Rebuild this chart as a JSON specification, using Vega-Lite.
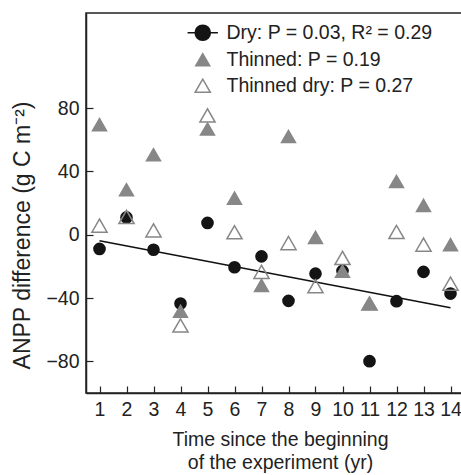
{
  "$schema": "https://vega.github.io/schema/vega-lite/v6.json",
  "autosize": {"type": "none"},
  "padding": {"left": 86, "top": 13, "right": 0, "bottom": 82},
  "width": 378,
  "height": 380,
  "background": "white",
  "config": {
    "font": "Liberation Sans",
    "view": {"stroke": "#222", "strokeWidth": 1.5},
    "axis": {
      "domainColor": "#222", "domainWidth": 1.5, "tickColor": "#222", "tickWidth": 1.2,
      "labelColor": "#222", "titleColor": "#222", "grid": false,
      "labelFontSize": 19.5, "titleFontSize": 19.5, "titleFontWeight": "normal"
    }
  },
  "data": {"values": [
    {"t": 1, "series": "Dry", "v": -9.0},
    {"t": 2, "series": "Dry", "v": 10.9},
    {"t": 3, "series": "Dry", "v": -9.5},
    {"t": 4, "series": "Dry", "v": -43.5},
    {"t": 5, "series": "Dry", "v": 7.4},
    {"t": 6, "series": "Dry", "v": -20.6},
    {"t": 7, "series": "Dry", "v": -13.7},
    {"t": 8, "series": "Dry", "v": -41.8},
    {"t": 9, "series": "Dry", "v": -24.6},
    {"t": 10, "series": "Dry", "v": -22.9},
    {"t": 11, "series": "Dry", "v": -79.9},
    {"t": 12, "series": "Dry", "v": -42.0},
    {"t": 13, "series": "Dry", "v": -23.5},
    {"t": 14, "series": "Dry", "v": -37.2},
    {"t": 1, "series": "Thinned", "v": 69.5},
    {"t": 2, "series": "Thinned", "v": 28.4},
    {"t": 3, "series": "Thinned", "v": 50.5},
    {"t": 4, "series": "Thinned", "v": -48.4},
    {"t": 5, "series": "Thinned", "v": 66.7},
    {"t": 6, "series": "Thinned", "v": 23.1},
    {"t": 7, "series": "Thinned", "v": -32.0},
    {"t": 8, "series": "Thinned", "v": 62.0},
    {"t": 9, "series": "Thinned", "v": -1.7},
    {"t": 10, "series": "Thinned", "v": -23.1},
    {"t": 11, "series": "Thinned", "v": -43.5},
    {"t": 12, "series": "Thinned", "v": 33.6},
    {"t": 13, "series": "Thinned", "v": 18.5},
    {"t": 14, "series": "Thinned", "v": -6.3},
    {"t": 1, "series": "Thinned dry", "v": 5.7},
    {"t": 2, "series": "Thinned dry", "v": 11.2},
    {"t": 3, "series": "Thinned dry", "v": 2.7},
    {"t": 4, "series": "Thinned dry", "v": -57.4},
    {"t": 5, "series": "Thinned dry", "v": 75.3},
    {"t": 6, "series": "Thinned dry", "v": 1.5},
    {"t": 7, "series": "Thinned dry", "v": -23.5},
    {"t": 8, "series": "Thinned dry", "v": -5.3},
    {"t": 9, "series": "Thinned dry", "v": -32.6},
    {"t": 10, "series": "Thinned dry", "v": -14.7},
    {"t": 11, "series": "Thinned dry", "v": -43.5},
    {"t": 12, "series": "Thinned dry", "v": 1.7},
    {"t": 13, "series": "Thinned dry", "v": -6.3},
    {"t": 14, "series": "Thinned dry", "v": -30.9}
  ]},
  "encoding": {
    "x": {
      "field": "t", "type": "quantitative",
      "scale": {"domain": [0.5, 14.5], "nice": false, "zero": false},
      "axis": {
        "values": [1,2,3,4,5,6,7,8,9,10,11,12,13,14],
        "tickSize": -7, "labelPadding": 14, "labelFlush": false, "labelOverlap": false,
        "title": ["Time since the beginning", "of the experiment (yr)"],
        "titleX": 194, "titleY": 37, "titleLineHeight": 23, "titleBaseline": "top"
      }
    },
    "y": {
      "field": "v", "type": "quantitative",
      "scale": {"domain": [-100, 140], "nice": false, "zero": false},
      "axis": {
        "values": [-80, -40, 0, 40, 80],
        "tickSize": -7, "labelPadding": 14, "labelFlush": false,
        "title": "ANPP difference (g C m⁻²)", "titleFontSize": 23,
        "titleX": -52, "titleY": 222
      }
    }
  },
  "layer": [
    {
      "transform": [
        {"filter": "datum.series === 'Dry'"},
        {"regression": "v", "on": "t", "extent": [1, 14]}
      ],
      "mark": {"type": "line", "color": "#111", "strokeWidth": 1.5}
    },
    {
      "transform": [{"filter": "datum.series === 'Dry'"}],
      "mark": {"type": "point", "shape": "circle", "filled": true, "color": "#141414", "size": 160, "opacity": 1}
    },
    {
      "transform": [{"filter": "datum.series !== 'Dry'"}],
      "mark": {"type": "point", "filled": false, "strokeWidth": 1.5, "opacity": 1},
      "encoding": {
        "shape": {
          "field": "series", "type": "nominal",
          "scale": {"domain": ["Dry", "Thinned", "Thinned dry"], "range": ["M-2.4,0H-1.2M1.2,0H2.4M1.2,0A1.2,1.2,0,1,1,-1.2,0A1.2,1.2,0,1,1,1.2,0Z", "triangle-up", "triangle-up"]},
          "legend": {
            "orient": "none", "legendX": 107, "legendY": 10, "title": null, "padding": 0,
            "labelFontSize": 19.5, "labelColor": "#222", "labelOffset": 14, "rowPadding": 5, "labelLimit": 400,
            "labelExpr": "datum.value === 'Dry' ? 'Dry: P = 0.03, R² = 0.29' : datum.value === 'Thinned' ? 'Thinned: P = 0.19' : 'Thinned dry: P = 0.27'",
            "symbolStrokeWidth": 1.5
          }
        },
        "fill": {
          "field": "series", "type": "nominal",
          "scale": {"domain": ["Dry", "Thinned", "Thinned dry"], "range": ["#141414", "#878787", "transparent"]}
        },
        "stroke": {
          "field": "series", "type": "nominal",
          "scale": {"domain": ["Dry", "Thinned", "Thinned dry"], "range": ["#141414", "#878787", "#878787"]}
        },
        "size": {
          "field": "series", "type": "nominal",
          "scale": {"domain": ["Dry", "Thinned", "Thinned dry"], "range": [160, 230, 230]}
        }
      }
    }
  ]
}
